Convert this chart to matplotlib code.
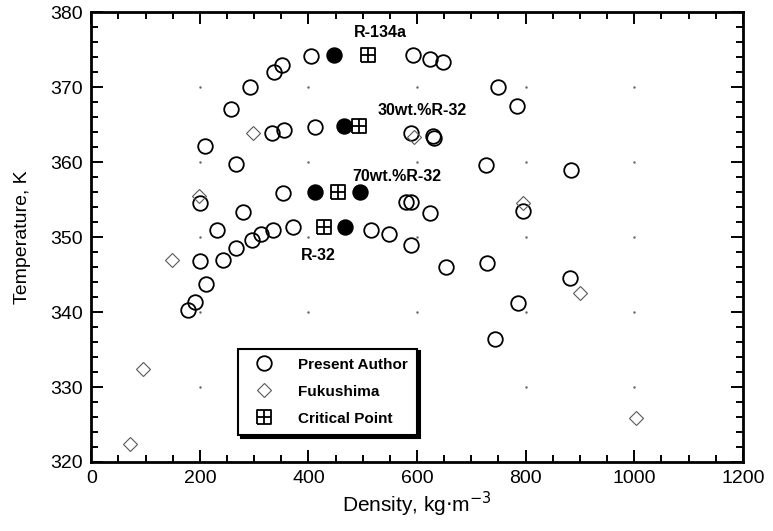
import matplotlib
matplotlib.use("Agg")
import matplotlib.pyplot as plt
from matplotlib.path import Path
import numpy as np

plt.rcParams['font.family'] = ['Liberation Sans', 'DejaVu Sans']

# present author, open circles (density kg/m3, temperature K)
authorRho = [404, 352, 337, 292, 257, 210, 266,
             593, 623, 647, 749, 785,
             333, 355, 412, 588, 629, 632,
             727, 884,
             353, 200, 279, 580, 588, 623, 795,
             232, 297, 312, 335, 372, 515, 549, 589, 266, 200, 243, 212, 192, 178,
             653, 728, 882, 786, 743]
authorT = [374.2, 373.0, 372.0, 370.0, 367.1, 362.2, 359.8,
           374.3, 373.8, 373.4, 370.0, 367.5,
           363.95, 364.3, 364.7, 363.9, 363.5, 363.2,
           359.6, 359.0,
           355.9, 354.5, 353.3, 354.7, 354.7, 353.2, 353.5,
           350.9, 349.6, 350.4, 350.9, 351.3, 350.9, 350.4, 348.9, 348.5, 346.8, 346.9, 343.8, 341.3, 340.3,
           346.0, 346.5, 344.6, 341.2, 336.4]

# filled circles
filledRho = [447, 465, 413, 495, 467]
filledT = [374.3, 364.8, 356.0, 356.0, 351.3]

# Fukushima, diamonds
fukuRho = [298, 595, 199, 795, 149, 96, 72, 901, 1004]
fukuT = [363.95, 363.3, 355.5, 354.5, 347.0, 332.4, 322.4, 342.5, 325.8]

# critical points
critRho = [509, 493, 455, 428]
critT = [374.3, 364.8, 356.0, 351.3]

labels = ['R-134a', '30wt.%R-32', '70wt.%R-32', 'R-32']
labelX = [532, 610, 563, 419]
labelY = [377.3, 366.9, 358.1, 347.6]

xMajor = [0, 200, 400, 600, 800, 1000, 1200]
yMajor = [320, 330, 340, 350, 360, 370, 380]

# square with a cross in it
critVerts = [(-1, -1), (1, -1), (1, 1), (-1, 1), (-1, -1),
             (0, -1), (0, 1), (-1, 0), (1, 0)]
critCodes = [Path.MOVETO, Path.LINETO, Path.LINETO, Path.LINETO, Path.LINETO,
             Path.MOVETO, Path.LINETO, Path.MOVETO, Path.LINETO]
critMarker = Path(critVerts, critCodes)

fig = plt.figure(figsize=(7.73, 5.31), dpi=100)
ax = fig.add_axes([0.118, 0.130, 0.843, 0.847])

# faint dots at the grid crossings
gx, gy = np.meshgrid(xMajor[1:-1], yMajor[1:-1])
ax.plot(gx.ravel(), gy.ravel(), linestyle='none', marker='.', ms=1.5, color='0.4')

hA, = ax.plot(authorRho, authorT, linestyle='none', marker='o', ms=10.5,
              mfc='none', mec='k', mew=1.3, label='Present Author')
ax.plot(filledRho, filledT, linestyle='none', marker='o', ms=10.5,
        mfc='k', mec='k', mew=1.3)
hF, = ax.plot(fukuRho, fukuT, linestyle='none', marker='D', ms=7.5,
              mfc='none', mec='0.35', mew=0.8, label='Fukushima')
hC, = ax.plot(critRho, critT, linestyle='none', marker=critMarker, ms=10,
              mfc='none', mec='k', mew=1.3, label='Critical Point')

for t, x, y in zip(labels, labelX, labelY):
    ax.text(x, y, t, fontsize=11.5, fontweight='bold', ha='center', va='center')

ax.set_xlim(0, 1200)
ax.set_ylim(320, 380)
ax.set_xticks(xMajor)
ax.set_yticks(yMajor)
ax.set_xticks(np.arange(0, 1201, 50), minor=True)
ax.set_yticks(np.arange(320, 381, 2), minor=True)
ax.tick_params(which='both', direction='in', top=True, right=True, labelsize=14, width=1.4, pad=6)
ax.tick_params(which='major', length=8.5)
ax.tick_params(which='minor', length=5)
for s in ax.spines.values():
    s.set_linewidth(2)

ax.set_xlabel('Density, kg$\\cdot$m$^{-3}$', fontsize=15, labelpad=2)
ax.set_ylabel('Temperature, K', fontsize=14, labelpad=14)

leg = ax.legend(handles=[hA, hF, hC], loc='lower left', bbox_to_anchor=(0.226, 0.06),
                borderaxespad=0, fancybox=False, edgecolor='k', framealpha=1,
                prop={'weight': 'bold', 'size': 11}, handletextpad=1.1,
                labelspacing=0.85, borderpad=0.6, handlelength=2.2,
                shadow={'color': 'k', 'alpha': 1, 'ox': 2, 'oy': -2})
leg.get_frame().set_linewidth(1.5)

fig.savefig('out.png', dpi=100)
